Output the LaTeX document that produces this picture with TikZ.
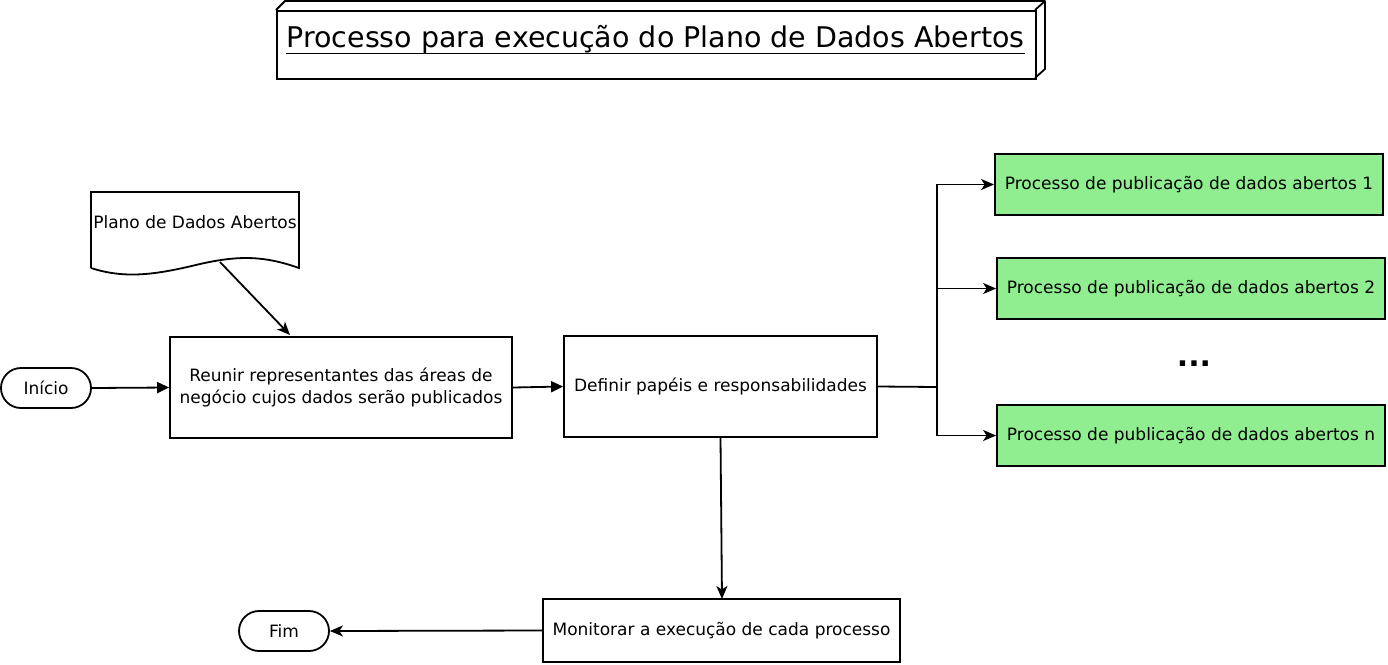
\documentclass[tikz,border=0pt]{standalone}
\usepackage{fontspec}
\setmainfont{DejaVu Sans}
\usetikzlibrary{arrows.meta,shapes.misc}
\begin{document}
\begin{tikzpicture}[x=1pt,y=-1pt,
  box/.style={draw,line width=1.8pt,rectangle,align=center,inner sep=0pt,font=\fontsize{17}{22}\selectfont},
  green/.style={box,fill=lightgreen},
  term/.style={draw,line width=1.8pt,rounded rectangle,inner sep=0pt,font=\fontsize{17}{22}\selectfont},
  conn/.style={line width=1.8pt,-{Stealth[length=13pt,width=11pt,inset=3.5pt]}},
  tconn/.style={line width=1.8pt,-{Triangle[length=12pt,width=11pt]}}
]
\definecolor{lightgreen}{HTML}{90EE90}
\useasboundingbox (0,0) rectangle (1388,664);
% title
\draw[line width=1.8pt,line join=round] (276,10) -- (285,1) -- (1045,1) -- (1045,69) -- (1035,78);
\draw[line width=1.8pt] (1035,10) -- (1045,1);
\node[box,minimum width=759pt,minimum height=68pt,anchor=north west] (title) at (276,10) {};
\node[inner sep=0pt,font=\fontsize{28.5}{32}\selectfont,anchor=base] (tt) at (655.5,47) {Processo para execução do Plano de Dados Abertos};
\draw[line width=0.8pt] ([yshift=-6pt]tt.base west) -- ([yshift=-6pt]tt.base east);
% document
\draw[line width=1.8pt] (91,268) -- (91,192) -- (299,192) -- (299,268)
  .. controls (265,256) and (240,255) .. (200,264)
  .. controls (155,275) and (125,279) .. (91,268);
\node[inner sep=0pt,font=\fontsize{17}{22}\selectfont] (doc) at (195,222) {Plano de Dados Abertos};
\coordinate (docb) at (220,262);
% nodes
\node[term,minimum width=90pt,minimum height=40pt] (ini) at (46,388) {Início};
\node[box,minimum width=342pt,minimum height=101pt] (reu) at (341,387.5) {Reunir representantes das áreas de\\negócio cujos dados serão publicados};
\node[box,minimum width=313pt,minimum height=101pt] (def) at (720.5,386.5) {Definir papéis e responsabilidades};
\node[green,minimum width=388pt,minimum height=61pt] (p1) at (1189,184.5) {Processo de publicação de dados abertos 1};
\node[green,minimum width=388pt,minimum height=61pt] (p2) at (1191,288.5) {Processo de publicação de dados abertos 2};
\node[green,minimum width=388pt,minimum height=61pt] (pn) at (1191,435.5) {Processo de publicação de dados abertos n};
\node[font=\fontsize{30}{34}\bfseries\selectfont,inner sep=0pt,anchor=base] (dots) at (1194,366) {...};
\node[box,minimum width=357pt,minimum height=63pt] (mon) at (721.5,630.5) {Monitorar a execução de cada processo};
\node[term,minimum width=90pt,minimum height=40pt] (fim) at (284,631) {Fim};
% connectors
\draw[conn] (docb) -- (290,335);
\draw[tconn] (ini.east) -- (reu.west);
\draw[tconn] (reu.east) -- (def.west);
\coordinate (j) at (937,387);
\draw[line width=1.8pt] (def.east) -- (j);
\draw[conn] (j) |- (p1.west);
\draw[conn] (j) |- (p2.west);
\draw[conn] (j) |- (pn.west);
\draw[conn] (def.south) -- (722,599);
\draw[conn] (mon.west) -- (fim.east);
\end{tikzpicture}
\end{document}
